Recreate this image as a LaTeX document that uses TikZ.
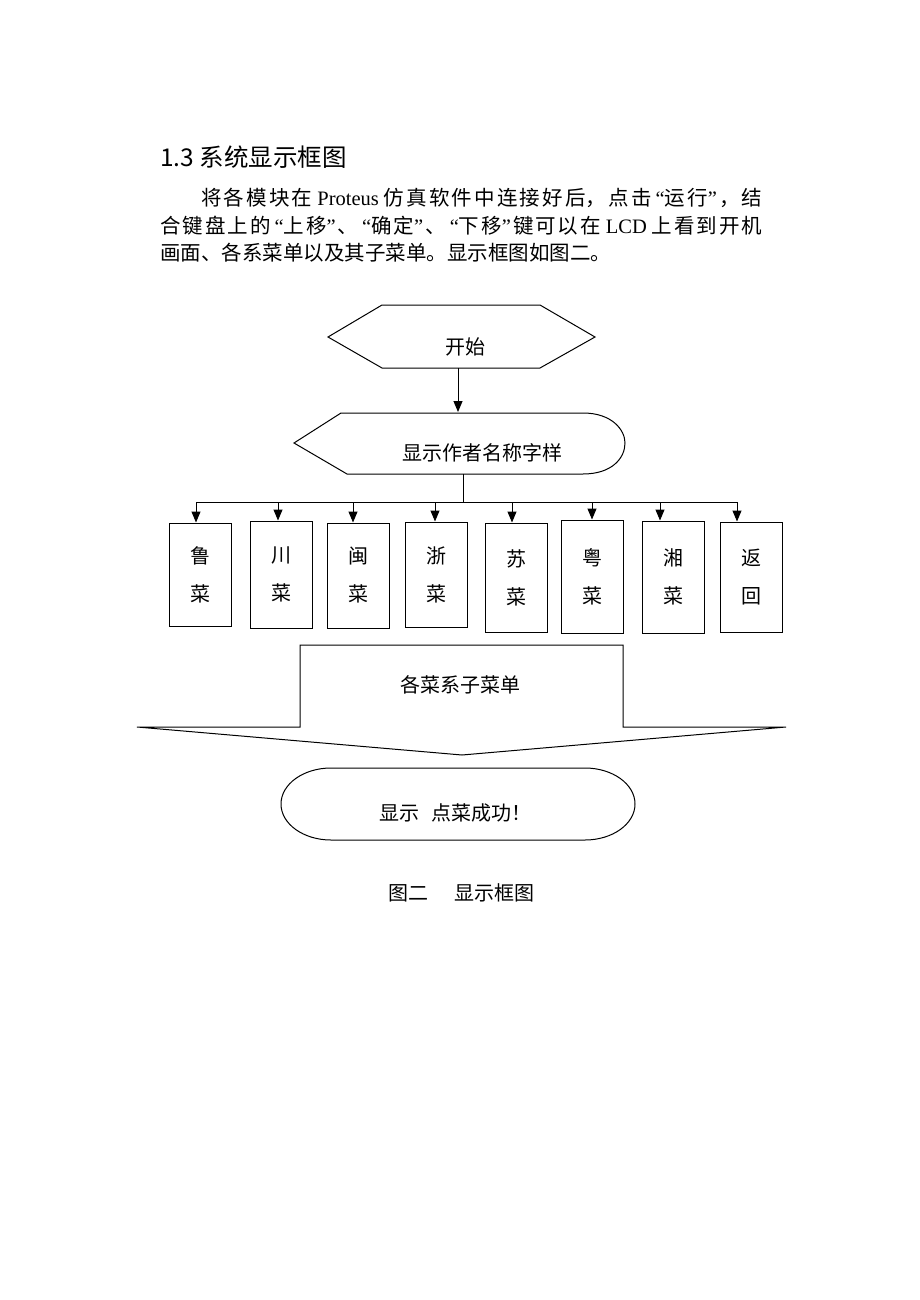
\documentclass[tikz,border=0pt]{standalone}
\usepackage{fontspec}
\setmainfont{Noto Sans CJK SC}
\newfontfamily\lat{Liberation Serif}
\usetikzlibrary{arrows.meta}
\XeTeXlinebreaklocale "zh"
\XeTeXlinebreakskip=0pt plus 4pt minus 2pt
\newcommand\qopen{\hspace{4pt}{\lat “}}
\newcommand\qclose{{\lat ”}\hspace{2pt}}

\tikzset{
  txt/.style={inner sep=0pt, font=\fontsize{20}{24}\selectfont},
  body/.style={anchor=west, inner sep=0pt, text width=602pt, align=justify, font=\fontsize{20.5}{24}\selectfont},
  dish/.style={draw, line width=1pt, minimum width=62pt, inner sep=0pt, align=center, font=\fontsize{20}{38}\selectfont},
  outline/.style={draw, line width=1pt, line join=miter},
  arr/.style={line width=1pt, -{Triangle[length=11pt,width=9pt]}},
}

\begin{document}
\begin{tikzpicture}[x=1pt,y=-1pt]
  \fill[white] (0,0) rectangle (920,1300);
  \useasboundingbox (0,0) rectangle (920,1300);

  % heading and text
  \node[anchor=west, inner sep=0pt, font=\fontsize{24.5}{28}\selectfont] (title) at (160,157) {1.3 系统显示框图};
  \node[body] (line1) at (160,198) {\noindent\parfillskip=0pt\hspace*{41pt}将各模块在\hspace{5pt}{\lat Proteus}\hspace{5pt}仿真软件中连接好后，点击\qopen 运行\qclose ，结\par};
  \node[body] (line2) at (160,226) {\noindent\parfillskip=0pt 合键盘上的\qopen 上移\qclose 、\qopen 确定\qclose 、\qopen 下移\qclose 键可以在\hspace{5pt}{\lat LCD}\hspace{5pt}上看到开机\par};
  \node[body] (line3) at (160,253) {\noindent 画面、各系菜单以及其子菜单。显示框图如图二。};

  % start
  \draw[outline] (328,337) -- (382,305) -- (540,305) -- (595,337) -- (540,368) -- (382,368) -- cycle;
  \node[txt] (start) at (465,347) {开始};
  \coordinate (startout) at (458,368);

  % author name display
  \draw[outline] (294,443) -- (341,413) -- (583,413) .. controls (612,413) and (625,430) .. (625,443)
    .. controls (625,458) and (612,474) .. (583,474) -- (347,474) -- cycle;
  \node[txt] (show) at (482,453) {显示作者名称字样};
  \coordinate (showin) at (458,412);
  \coordinate (showout) at (463,474);
  \draw[arr] (startout) -- (showin);

  % branches
  \coordinate (bus) at (463,502);
  \coordinate (busl) at (196,502);
  \coordinate (busr) at (737,502);
  \draw[line width=1pt] (showout) -- (bus);
  \draw[line width=1pt] (busl) -- (busr);

  \foreach \n/\x/\t/\b/\ax/\txt in {lu/169/523/626/196/{鲁\\菜}, chuan/250/521/628/278/{川\\菜},
      min/327/523/628/353/{闽\\菜}, zhe/405/522/627/435/{浙\\菜}, su/485/523/632/512/{苏\\菜},
      yue/561/520/633/592/{粤\\菜}, xiang/642/521/633/660/{湘\\菜}, back/720/522/632/737/{返\\回}}{
    \node[dish, minimum height=\b-\t] (\n) at ({\x+31},{(\t+\b)/2}) {\txt};
    \draw[arr] (\ax,502) -- (\ax,0 |- \n.north);
  }

  % sub menus
  \draw[outline] (300,645) -- (623,645) -- (623,727) -- (786,727) -- (462,755) -- (137,727) -- (300,727) -- cycle;
  \node[txt] (menu) at (460,685) {各菜系子菜单};

  % end
  \draw[outline] (331,768) -- (585,768) arc (-90:90:50 and 36) -- (331,840) arc (90:270:50 and 36) -- cycle;
  \node[txt] (done) at (455,813) {显示\hspace{0.6em}点菜成功！};

  \node[txt] (cap) at (461,893) {图二\hspace{1.3em}显示框图};
\end{tikzpicture}
\end{document}
